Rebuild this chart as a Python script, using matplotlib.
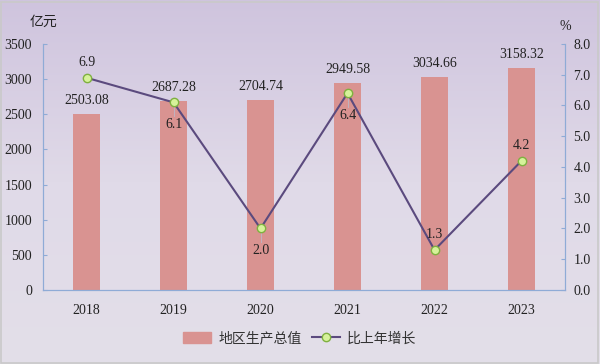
import numpy as np
import matplotlib
matplotlib.use("Agg")
import matplotlib.pyplot as plt
from matplotlib.lines import Line2D
from matplotlib.patches import Patch, Rectangle

years = ["2018", "2019", "2020", "2021", "2022", "2023"]
gdp = [2503.08, 2687.28, 2704.74, 2949.58, 3034.66, 3158.32]
growth = [6.9, 6.1, 2.0, 6.4, 1.3, 4.2]
growth_pos = ["above", "below", "below", "below", "above", "above"]

serif = ["Liberation Serif", "DejaVu Serif"]
cjk = ["Noto Sans CJK SC", "DejaVu Sans"]
bar_color = "#d99391"
line_color = "#5b4a7e"
axis_color = "#8fabd6"

fig = plt.figure(figsize=(6, 3.64), dpi=100)

# gradient background
bg = fig.add_axes([0, 0, 1, 1], zorder=-10)
grad = np.linspace(0, 1, 256).reshape(-1, 1)
cmap = matplotlib.colors.LinearSegmentedColormap.from_list("bg", ["#e3dfe9", "#e0dae8", "#cfc4de"])
bg.imshow(grad, aspect="auto", cmap=cmap, origin="lower", extent=[0, 1, 0, 1])
bg.add_patch(Rectangle((0.002, 0.003), 0.994, 0.992, fill=False, ec="#c9c9c9", lw=1.2,
                       transform=bg.transAxes))
bg.set_axis_off()

ax = fig.add_axes([0.0717, 0.2033, 0.87, 0.676])
ax.patch.set_alpha(0)
x = np.arange(len(years))
ax.bar(x, gdp, width=0.31, color=bar_color, zorder=2)
ax.set_ylim(0, 3500)
ax.set_xlim(-0.5, len(years) - 0.5)
ax.set_yticks(np.arange(0, 3501, 500))
ax.set_xticks(x)
ax.set_xticklabels(years)
ax.spines["top"].set_visible(False)
for sp in ["left", "bottom", "right"]:
    ax.spines[sp].set_color(axis_color)
ax.tick_params(axis="y", direction="in", length=3, color=axis_color, labelsize=10, pad=8)
ax.tick_params(axis="x", length=0, labelsize=10, pad=10)
for lab in ax.get_xticklabels() + ax.get_yticklabels():
    lab.set_family(serif)
    lab.set_color("#222222")
for i, v in enumerate(gdp):
    ax.text(x[i], v + 100, f"{v:.2f}", ha="center", va="bottom", fontsize=10,
            family=serif, color="#222222")

ax2 = ax.twinx()
ax2.set_ylim(0, 8)
ax2.set_yticks(np.arange(0, 8.1, 1))
ax2.set_yticklabels([f"{t:.1f}" for t in np.arange(0, 8.1, 1)])
ax2.spines["top"].set_visible(False)
for sp in ["left", "bottom", "right"]:
    ax2.spines[sp].set_color(axis_color)
ax2.tick_params(axis="y", direction="in", length=3, color=axis_color, labelsize=10, pad=6)
for lab in ax2.get_yticklabels():
    lab.set_family(serif)
    lab.set_color("#222222")
ax2.plot(x, growth, color=line_color, lw=1.5, marker="o", ms=6,
         mfc="#d6f29a", mec="#7fb040", mew=1, zorder=3)
for i, v in enumerate(growth):
    if growth_pos[i] == "above":
        ax2.text(x[i], v + 0.3, f"{v:.1f}", ha="center", va="bottom", fontsize=10,
                 family=serif, color="#222222")
    else:
        ax2.plot([x[i], x[i]], [v - 0.1, v - 0.45], color="#c0b2c0", lw=0.7, zorder=1)
        ax2.text(x[i], v - 0.5, f"{v:.1f}", ha="center", va="top", fontsize=10,
                 family=serif, color="#222222")

fig.text(0.05, 0.94, "亿元", ha="left", va="center", fontsize=10, family=cjk, color="#222222")
fig.text(0.942, 0.928, "%", ha="center", va="center", fontsize=10, family=serif, color="#222222")

handles = [Patch(color=bar_color),
           Line2D([0], [0], color=line_color, lw=1.5, marker="o", ms=6,
                  mfc="#d6f29a", mec="#7fb040")]
leg = fig.legend(handles, ["地区生产总值", "比上年增长"], loc="center", bbox_to_anchor=(0.5, 0.07),
                 ncol=2, frameon=False, prop={"family": cjk, "size": 10},
                 handlelength=2.0, handleheight=0.8, columnspacing=0.8, handletextpad=0.5)
for t in leg.get_texts():
    t.set_color("#333333")

fig.savefig("out.png", dpi=100)
